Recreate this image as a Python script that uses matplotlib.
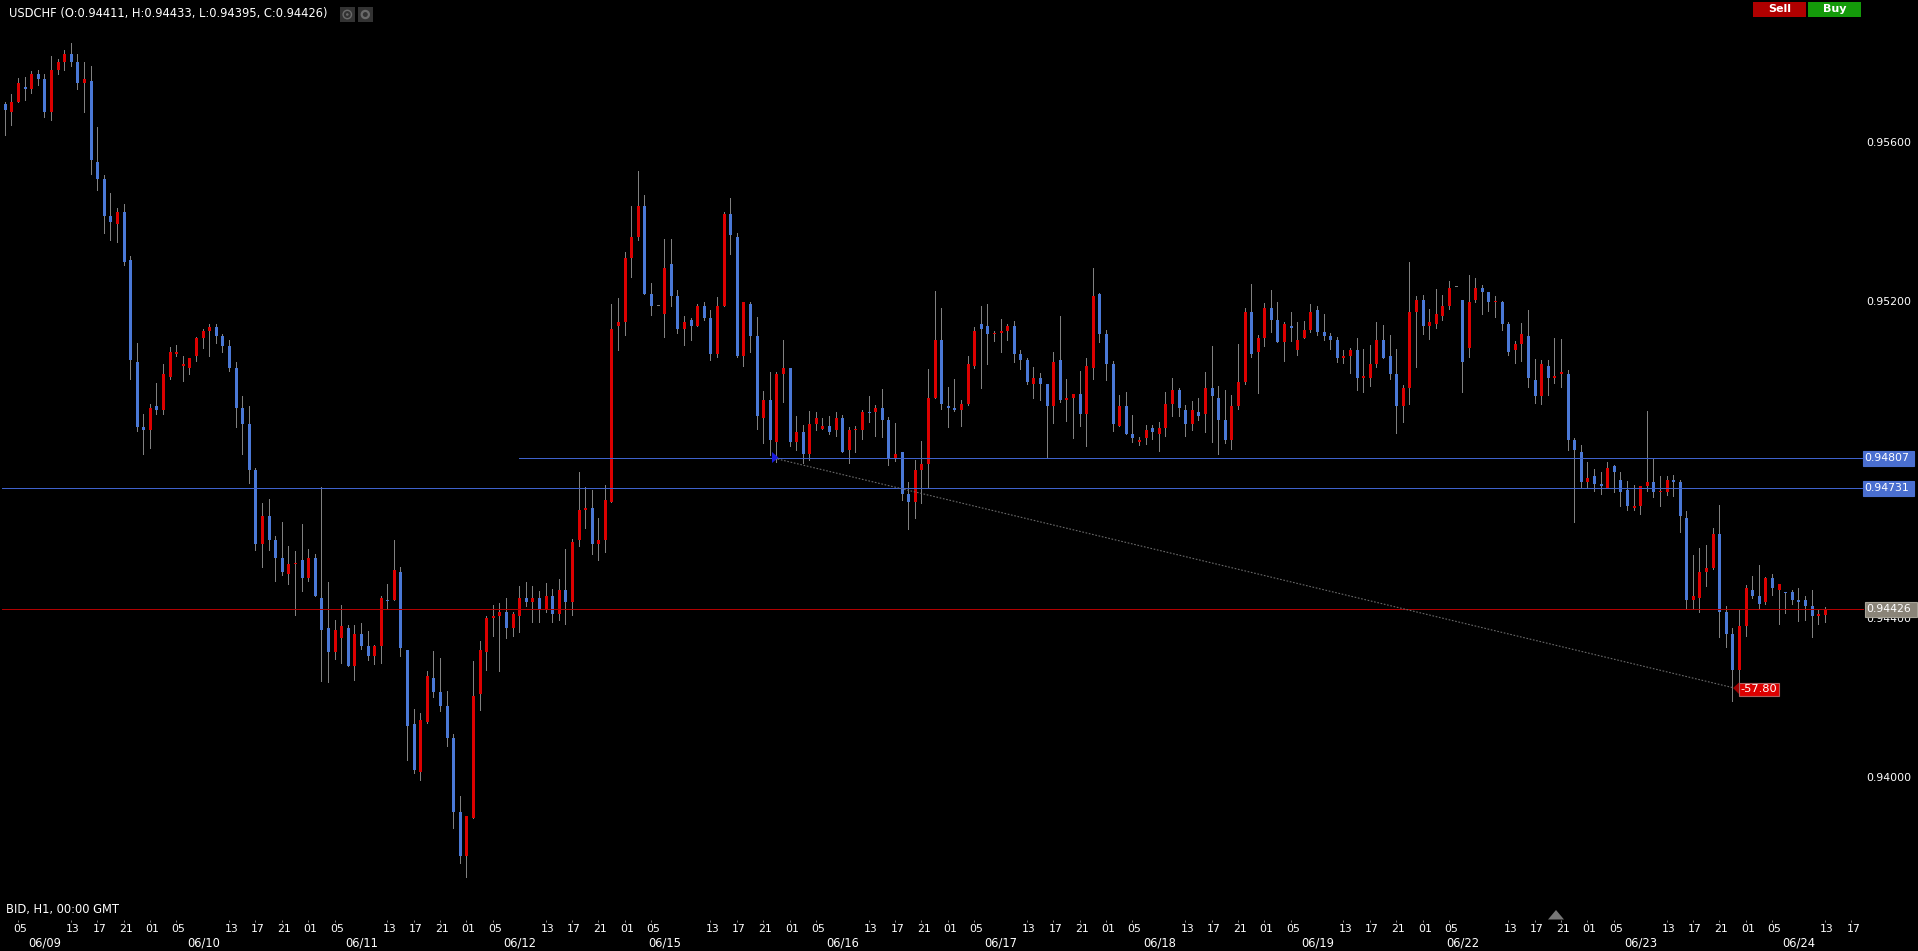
import matplotlib
matplotlib.use("Agg")
import matplotlib.pyplot as plt
from matplotlib.patches import Rectangle, Polygon, Circle
from matplotlib.transforms import ScaledTranslation

W, H = 1918, 951
PT = 1e-5

highs = [95704,95724,95766,95769,95782,95785,95775,95820,95814,95837,95853,95827,95807,95795,95643,95520,95475,95437,95447,95316,
95097,94918,94943,94996,95044,95087,95092,95064,95059,95112,95132,95145,95145,95119,95104,95049,94963,94938,94782,94694,
94704,94611,94646,94585,94573,94641,94578,94565,94734,94495,94399,94437,94386,94386,94391,94371,94336,94459,94490,94601,
94533,94323,94175,94165,94270,94321,94303,94220,94112,93955,93905,94296,94346,94409,94437,94442,94454,94419,94485,94495,
94485,94472,94492,94477,94502,94578,94603,94772,94734,94727,94656,94739,95195,95210,95326,95444,95530,95470,95248,95190,
95359,95359,95230,95165,95160,95195,95202,95180,95213,95427,95462,95374,95202,95200,95162,94976,95024,95024,95104,95034,
94913,94890,94925,94923,94908,94913,94923,94915,94885,94888,94928,94963,94940,94981,94910,94895,94822,94746,94802,94850,
95031,95228,95185,94986,95006,94955,95064,95137,95190,95197,95129,95157,95145,95152,95079,95059,95037,95022,94994,95075,
95165,95007,94969,95027,95060,95286,95223,95130,95052,94966,94973,94916,94861,94891,94891,94898,94974,95009,94984,94941,
94951,94959,95024,95090,94989,94979,94966,95095,95186,95246,95118,95198,95231,95201,95150,95176,95150,95153,95196,95191,
95171,95123,95113,95080,95085,95110,95082,95092,95150,95143,95118,95082,94992,95302,95216,95218,95183,95234,95218,95254,
95238,95206,95269,95261,95244,95226,95216,95203,95150,95102,95148,95181,95057,95055,95055,95110,95108,95029,94858,94840,
94798,94780,94772,94798,94790,94772,94750,94740,94737,94926,94807,94762,94762,94765,94752,94674,94563,94581,94588,94631,
94689,94435,94379,94425,94488,94510,94538,94508,94515,94490,94470,94475,94480,94460,94475,94427,94433]

lows = [95621,95646,95704,95709,95727,95747,95666,95659,95775,95785,95797,95739,95679,95523,95482,95376,95356,95351,95293,95008,
94875,94817,94832,94918,94918,95006,95064,95003,95019,95051,95084,95066,95097,95076,95026,94887,94817,94745,94575,94533,
94575,94497,94512,94490,94412,94472,94497,94459,94245,94243,94301,94291,94283,94248,94326,94298,94288,94291,94427,94449,
94308,94046,94013,93996,94139,94205,94170,94082,93875,93787,93751,93900,94172,94273,94359,94270,94354,94359,94369,94434,
94394,94394,94419,94394,94399,94389,94412,94585,94631,94565,94550,94570,94696,95079,95117,95263,95356,95220,95167,95190,
95112,95192,95122,95092,95104,95140,95155,95054,95061,95190,95323,95061,95039,95076,94880,94845,94814,94797,94950,94837,
94827,94794,94802,94877,94880,94867,94862,94822,94794,94822,94855,94898,94862,94860,94789,94799,94701,94628,94656,94693,
94731,94958,94930,94885,94925,94888,94940,95034,94983,95044,95102,95076,95104,95049,95031,94993,94959,94954,94808,94896,
94949,94901,94858,94888,94838,95007,95100,95004,94876,94888,94868,94848,94840,94843,94856,94825,94863,94913,94913,94863,
94878,94903,94873,94848,94818,94845,94830,94931,94994,95062,94971,95090,95125,95100,95052,95102,95067,95110,95125,95118,
95105,95082,95050,95047,95022,94979,94974,94989,95037,95060,95007,94871,94898,94944,95037,95120,95107,95135,95155,95183,
95238,94974,95062,95201,95171,95178,95163,95130,95067,95047,95052,94987,94946,94944,94966,94997,94987,94828,94646,94735,
94732,94724,94717,94732,94722,94687,94677,94677,94667,94724,94709,94687,94714,94712,94621,94430,94427,94420,94485,94528,
94357,94331,94195,94228,94359,94455,94427,94440,94462,94389,94417,94440,94397,94399,94357,94389,94395]

opens = [95699,95679,95704,95744,95739,95775,95764,95679,95785,95805,95825,95805,95754,95759,95553,95512,95417,95397,95427,95306,
95049,94887,94877,94938,94928,95013,95069,95039,95034,95064,95109,95129,95139,95114,95089,95034,94933,94893,94777,94591,
94661,94601,94555,94515,94540,94550,94505,94555,94454,94379,94318,94354,94379,94283,94364,94333,94308,94333,94449,94449,
94520,94323,94137,94016,94142,94253,94218,94182,94102,93915,93804,93900,94212,94318,94404,94409,94419,94379,94409,94454,
94444,94454,94424,94459,94414,94475,94444,94601,94676,94681,94591,94601,94696,95140,95150,95311,95366,95442,95220,95190,
95170,95296,95215,95134,95155,95140,95190,95160,95069,95190,95422,95366,95064,95195,95114,94908,94953,94847,95019,95034,
94847,94872,94817,94893,94882,94888,94877,94908,94827,94877,94877,94923,94923,94933,94903,94807,94822,94716,94696,94777,
94792,94958,95104,94938,94933,94928,94943,95039,95145,95140,95119,95124,95129,95140,95069,95054,94994,95009,94994,94939,
95055,94954,94959,94969,94919,95034,95221,95120,95045,94888,94939,94868,94848,94858,94883,94868,94883,94944,94979,94929,
94893,94924,94919,94984,94959,94903,94853,94939,94999,95176,95075,95110,95186,95155,95100,95140,95080,95110,95130,95181,
95125,95115,95105,95060,95065,95080,95009,95009,95045,95105,95065,95019,94939,94984,95176,95206,95140,95145,95165,95191,
95238,95206,95085,95206,95236,95226,95201,95201,95145,95080,95095,95115,95004,94964,95039,95009,95019,95019,94853,94823,
94747,94762,94742,94732,94787,94752,94727,94682,94687,94737,94747,94722,94722,94752,94747,94656,94450,94455,94520,94530,
94616,94420,94364,94273,94384,94475,94460,94445,94505,94475,94470,94470,94450,94450,94435,94409,94411]

closes = [95684,95704,95754,95739,95775,95764,95679,95785,95805,95825,95805,95754,95764,95558,95512,95417,95402,95427,95301,95054,
94887,94877,94933,94928,95019,95074,95074,95044,95059,95109,95129,95139,95114,95089,95034,94933,94893,94777,94591,94661,
94601,94555,94520,94540,94542,94505,94555,94459,94374,94318,94374,94384,94283,94364,94333,94308,94333,94454,94447,94525,
94328,94132,94021,94147,94258,94218,94182,94102,93915,93804,93905,94207,94323,94404,94409,94419,94379,94414,94454,94444,
94454,94426,94459,94414,94475,94444,94596,94676,94681,94591,94601,94701,95134,95150,95311,95366,95442,95220,95190,95190,
95286,95215,95134,95150,95140,95190,95160,95069,95190,95422,95371,95064,95200,95114,94913,94953,94852,95019,95034,94847,
94872,94817,94893,94908,94888,94872,94908,94822,94877,94882,94923,94920,94933,94903,94807,94817,94716,94696,94777,94792,
94958,95104,94943,94933,94928,94943,95044,95129,95134,95119,95124,95129,95140,95069,95054,94998,95009,94994,94939,95050,
94954,94959,94969,94919,95039,95216,95120,95045,94893,94939,94868,94858,94853,94878,94873,94883,94944,94979,94934,94893,
94929,94913,94984,94964,94903,94853,94939,94999,95176,95070,95110,95186,95155,95100,95145,95135,95105,95130,95176,95125,
95115,95105,95060,95065,95080,95009,95014,95045,95105,95060,95019,94939,94984,95176,95206,95140,95150,95171,95191,95236,
95238,95050,95201,95236,95226,95201,95202,95145,95075,95095,95120,95009,94964,95045,95009,95014,95024,94853,94828,94747,
94757,94742,94737,94782,94772,94722,94687,94687,94737,94747,94722,94724,94752,94747,94661,94450,94460,94520,94530,94616,
94420,94364,94273,94384,94480,94460,94440,94505,94480,94490,94467,94450,94445,94435,94409,94414,94426]

hour_tick_bars = [2,10,14,18,22,26,34,38,42,46,50,58,62,66,70,74,82,86,90,94,98,107,111,115,119,123,131,135,139,143,147,155,159,163,167,171,
179,183,187,191,195,203,207,211,215,219,228,232,236,240,244,252,256,260,264,268,276,280]
hour_tick_labels = ["05","13","17","21","01"] * 11 + ["05","13","17"]
date_bars = [6,30,54,78,100,127,151,175,199,221,248,272]
date_labels = ["06/09","06/10","06/11","06/12","06/15","06/16","06/17","06/18","06/19","06/22","06/23","06/24"]
price_ticks = [0.956, 0.952, 0.948, 0.944, 0.940]
level_a, level_b, last_price = 0.94807, 0.94731, 0.94426
trade_start_bar, trade_end_bar = 116.7, 262
trade_end_price = 0.94229
trade_pips = "-57.80"

plt.rcParams['font.family'] = ['DejaVu Sans']
FS = 7.8
FS_WIDE = 8.3
BLUE, RED, GREY = "#4a78d6", "#dc0000", "#808080"
LINE_BLUE, LINE_RED = "#3f62cc", "#b00000"

fig = plt.figure(figsize=(W/100, H/100), dpi=100, facecolor="black")
ax = fig.add_axes([0, 1-920/H, 1, 920/H], facecolor="black")

# axis calibration: x px = 4.83 + 6.594*bar, price per px = 2.5208e-5, 0.94426 at px 609.4
DX, X0, PP, Y0 = 6.594, 4.83, 2.5208e-5, 609.4
ax.set_xlim(-X0/DX, (W-X0)/DX)
ax.set_ylim(last_price-(920-Y0)*PP, last_price+Y0*PP)

bars = list(range(len(opens)))
px = 0.72
colors = [RED if c > o else BLUE if c < o else GREY for o, c in zip(opens, closes)]
body_lo = [min(o, c)*PT for o, c in zip(opens, closes)]
body_h = [max(abs(o-c)*PT, 1.05*PP) for o, c in zip(opens, closes)]

ax.vlines(bars, [l*PT for l in lows], [h*PT for h in highs], color=GREY, lw=px, antialiased=False, zorder=3)
ax.bar([b-1/DX for b in bars], body_h, bottom=body_lo, width=3/DX, align="edge", color=colors,
       linewidth=0, antialiased=False, zorder=4)

line_end = 1863
def bar_at(p):
    return (p-X0)/DX
ax.hlines(level_a, bar_at(519), bar_at(line_end), color=LINE_BLUE, lw=px, antialiased=False, zorder=5)
ax.hlines(level_b, bar_at(2), bar_at(line_end), color=LINE_BLUE, lw=px, antialiased=False, zorder=5)
ax.hlines(last_price, bar_at(2), bar_at(line_end), color=LINE_RED, lw=px, antialiased=False, zorder=5)
ax.plot([trade_start_bar, trade_end_bar], [level_a, trade_end_price], color="#6a6a6a", lw=0.8,
        ls=(0, (1.5, 1.5)), zorder=5)

# axes
for s in ax.spines.values():
    s.set_visible(False)
ax.yaxis.tick_right()
ax.set_yticks(price_ticks)
ax.set_yticklabels([f"{p:.5f}" for p in price_ticks], color="white", fontsize=FS, ha="right")
ax.tick_params(axis="y", length=0, pad=-5)
yoff = ScaledTranslation(0, 1.3/100, fig.dpi_scale_trans)
for lab in ax.get_yticklabels():
    lab.set_transform(lab.get_transform()+yoff)
ax.set_xticks(hour_tick_bars)
ax.set_xticklabels(hour_tick_labels, color="white", fontsize=FS)
ax.tick_params(axis="x", length=1.5, width=px, color="#808080", pad=1.5)
off = ScaledTranslation(2.2/100, 0, fig.dpi_scale_trans)
for lab in ax.get_xticklabels():
    lab.set_transform(lab.get_transform()+off)
for b, d in zip(date_bars, date_labels):
    ax.annotate(d, (b, 0), xycoords=("data", "axes fraction"), xytext=(0.4, -16.5), textcoords="offset points",
                color="white", fontsize=FS_WIDE, ha="center", va="center", annotation_clip=False)

# overlay in pixel coordinates
ui = fig.add_axes([0, 0, 1, 1], facecolor="none")
ui.set_xlim(0, W); ui.set_ylim(H, 0); ui.axis("off")

def tag(x0, x1, yc, h, fc, ec, txt, tx, fs=FS):
    ui.add_patch(Rectangle((x0, yc-h/2), x1-x0, h, fc=fc, ec=ec, lw=0.8, zorder=6))
    ui.text(tx, yc-0.5, txt, color="white", fontsize=fs, va="center", ha="left", zorder=7)

def price_y(p):
    return Y0 + (last_price-p)/PP

tag(1863, 1914, price_y(level_a), 14.5, "#4a6fd0", "#4a6fd0", f"{level_a:.5f}", 1864.5)
tag(1863, 1914, price_y(level_b), 14.5, "#4a6fd0", "#4a6fd0", f"{level_b:.5f}", 1864.5)
tag(1865, 1917, price_y(last_price), 15, "#8a8478", "#a8a498", f"{last_price:.5f}", 1866.5)
tag(1739, 1779, 689.5, 13, "#dc0000", "#b06060", trade_pips, 1740, fs=8.2)
ui.add_patch(Polygon([[1739, 682.5], [1739, 694], [1733, 688]], fc="#a00000", ec="none", zorder=6))
ui.add_patch(Polygon([[772, 452], [772, 463], [778.5, 457.5]], fc="#1a1ae0", ec="none", zorder=6))
ui.add_patch(Polygon([[1548, 919.5], [1564, 919.5], [1556, 910]], fc="#777777", ec="none", zorder=6))

ui.text(9, 14, "USDCHF (O:0.94411, H:0.94433, L:0.94395, C:0.94426)", color="white", fontsize=FS_WIDE, va="center")
ui.text(6, 910, "BID, H1, 00:00 GMT", color="white", fontsize=FS_WIDE, va="center")
for xb in (340, 358):
    ui.add_patch(Rectangle((xb, 7), 14.5, 14.5, fc="#333333", ec="none"))
ui.add_patch(Circle((347.3, 14.5), 4.2, fc="none", ec="#6a6a6a", lw=1))
ui.add_patch(Circle((347.3, 14.5), 1.3, fc="#6a6a6a", ec="none"))
ui.add_patch(Circle((365.3, 14.5), 3.6, fc="none", ec="#6a6a6a", lw=1.6))
ui.add_patch(Rectangle((1753, 2), 53, 15, fc="#b00000", ec="none"))
ui.add_patch(Rectangle((1808, 2), 53, 15, fc="#149a0a", ec="none"))
ui.text(1779.5, 9.5, "Sell", color="white", fontsize=8, fontweight="bold", ha="center", va="center")
ui.text(1834.5, 9.5, "Buy", color="white", fontsize=8, fontweight="bold", ha="center", va="center")

fig.savefig("out.png", dpi=100, facecolor="black")
